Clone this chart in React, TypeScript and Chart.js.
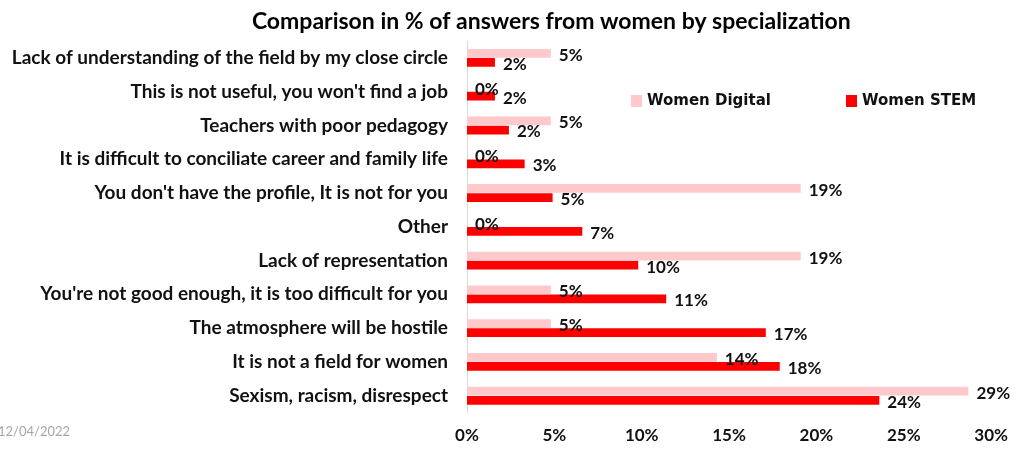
import React, { useEffect, useRef } from 'react';
import { Chart, registerables } from 'chart.js';

Chart.register(...registerables);

const chartTitle = 'Comparison in % of answers from women by specialization';
const dateStamp = '12/04/2022';

const categories = [
  'Lack of understanding of the field by my close circle',
  "This is not useful, you won't find a job",
  'Teachers with poor pedagogy',
  'It is difficult to conciliate career and family life',
  "You don't have the profile, It is not for you",
  'Other',
  'Lack of representation',
  "You're not good enough, it is too difficult for you",
  'The atmosphere will be hostile',
  'It is not a field for women',
  'Sexism, racism, disrespect',
];

const seriesNames = ['Women Digital', 'Women STEM'];
const digitalValues = [4.8, 0, 4.8, 0, 19.1, 0, 19.1, 4.8, 4.8, 14.3, 28.7];
const stemValues = [1.6, 1.6, 2.4, 3.3, 4.9, 6.6, 9.8, 11.4, 17.1, 17.9, 23.6];
const xTickValues = [0, 5, 10, 15, 20, 25, 30];

const DIGITAL_COLOR = '#FFC9CC';
const STEM_COLOR = '#FF0000';
const TEXT_COLOR = '#111111';

const overlayPlugin = {
  id: 'overlayPlugin',
  afterDatasetsDraw(chart: any) {
    const { ctx } = chart;
    ctx.save();
    ctx.font = 'bold 17px Lato';
    ctx.fillStyle = TEXT_COLOR;
    ctx.textAlign = 'left';
    ctx.textBaseline = 'middle';
    chart.data.datasets.forEach((ds: any, di: number) => {
      const meta = chart.getDatasetMeta(di);
      meta.data.forEach((bar: any, i: number) => {
        const v = ds.data[i];
        ctx.fillText(`${Math.round(v)}%`, bar.x + 8, bar.y + 2);
      });
    });
    ctx.restore();
  },
  afterDraw(chart: any) {
    const { ctx, chartArea } = chart;
    ctx.save();
    // title
    ctx.font = 'bold 23px Lato';
    ctx.fillStyle = '#000000';
    ctx.textAlign = 'center';
    ctx.textBaseline = 'alphabetic';
    ctx.fillText(chartTitle, chart.width * 0.54, 29);
    // date stamp
    ctx.font = '13px Lato';
    ctx.fillStyle = '#A6A6A6';
    ctx.textAlign = 'left';
    ctx.textBaseline = 'middle';
    ctx.fillText(dateStamp, -2, 432);
    // legend
    const colors = [DIGITAL_COLOR, STEM_COLOR];
    const offsets = [164, 379];
    ctx.font = 'bold 15px "DejaVu Sans"';
    seriesNames.forEach((name, i) => {
      const x = chartArea.left + offsets[i];
      const yc = chartArea.top + 60;
      ctx.fillStyle = colors[i];
      ctx.fillRect(x, yc - 6, 11, 12);
      ctx.fillStyle = TEXT_COLOR;
      ctx.fillText(name, x + 16, yc);
    });
    ctx.restore();
  },
};

export default function App() {
  const canvasRef = useRef<HTMLCanvasElement | null>(null);

  useEffect(() => {
    if (!canvasRef.current) return;
    const chart = new Chart(canvasRef.current, {
      type: 'bar',
      data: {
        labels: categories,
        datasets: [
          {
            label: seriesNames[0],
            data: digitalValues,
            backgroundColor: DIGITAL_COLOR,
            categoryPercentage: 0.54,
            barPercentage: 0.96,
          },
          {
            label: seriesNames[1],
            data: stemValues,
            backgroundColor: STEM_COLOR,
            categoryPercentage: 0.54,
            barPercentage: 0.96,
          },
        ],
      },
      options: {
        indexAxis: 'y',
        animation: false,
        responsive: true,
        maintainAspectRatio: false,
        layout: { padding: { top: 41, right: 20, bottom: 0, left: 0 } },
        plugins: {
          legend: { display: false },
          title: { display: false },
          tooltip: { enabled: false },
        },
        scales: {
          x: {
            min: 0,
            max: 30,
            afterBuildTicks: (scale: any) => {
              scale.ticks = xTickValues.map((v) => ({ value: v }));
            },
            ticks: {
              callback: (v: any) => `${v}%`,
              font: { family: 'Lato', size: 17, weight: 'bold' },
              color: TEXT_COLOR,
              padding: 13,
              maxRotation: 0,
            },
            grid: { display: false, drawTicks: false },
            border: { display: false },
          },
          y: {
            afterFit: (scale: any) => {
              scale.width = 467;
            },
            ticks: {
              font: { family: 'Lato', size: 19, weight: 'bold' },
              color: TEXT_COLOR,
              padding: 19,
              autoSkip: false,
            },
            grid: { display: true, drawOnChartArea: false, drawTicks: false },
            border: { display: true, color: '#D9D9D9', width: 1 },
          },
        },
      },
      plugins: [overlayPlugin],
    } as any);
    return () => chart.destroy();
  }, []);

  return (
    <div style={{ position: 'absolute', left: 0, top: 0, width: 1021, height: 459, background: '#ffffff' }}>
      <canvas ref={canvasRef} />
    </div>
  );
}
